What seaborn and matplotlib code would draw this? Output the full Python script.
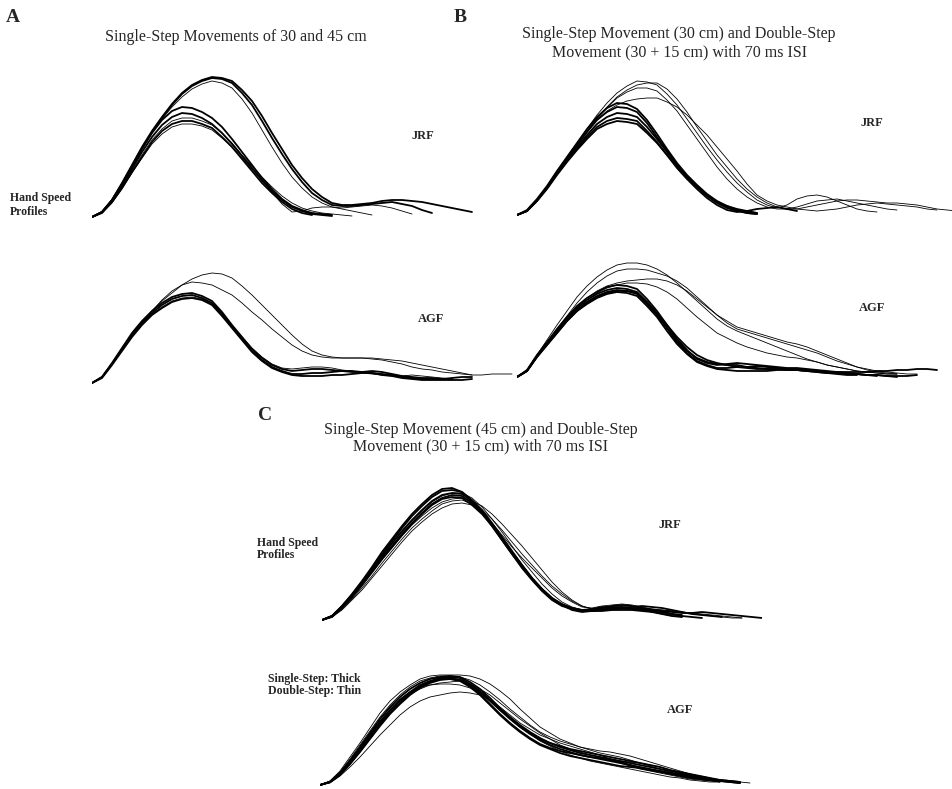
import numpy as np
import pandas as pd
import matplotlib
matplotlib.use("Agg")
import matplotlib.pyplot as plt
import seaborn as sns

sns.set_style('white')
plt.rcParams['font.family'] = ['Liberation Serif', 'DejaVu Serif']

# sample times (ms) shared by every trace, one value every 20 ms
T = [0, 20, 40, 60, 80, 100, 120, 140, 160, 180, 200, 220, 240, 260, 280,
     300, 320, 340, 360, 380, 400, 420, 440, 460, 480, 500, 520, 540, 560,
     580, 600, 620, 640, 660, 680, 700, 720, 740, 760, 780, 800, 820, 840,
     860, 880]

# hand speed (cm/s)
# --- A, JRF: 30 cm (short) and 45 cm (tall)
a_jrf_30_1 = [0, 5, 17, 33, 50, 68, 84, 97, 106, 110, 109, 105, 99, 90, 78, 65, 52, 39, 28, 18, 11, 7, 4, 3, 2]
a_jrf_30_2 = [0, 5, 16, 31, 48, 65, 80, 92, 100, 104, 103, 99, 93, 84, 73, 61, 49, 37, 26, 17, 10, 6, 3, 2, 1]
a_jrf_30_3 = [0, 4, 15, 30, 46, 62, 77, 88, 96, 99, 99, 96, 92, 84, 74, 62, 51, 40, 30, 21, 14, 9, 6, 4, 3, 2, 1]
a_jrf_30_4 = [0, 4, 15, 29, 45, 60, 75, 86, 93, 96, 96, 93, 89, 80, 70, 58, 46, 34, 24, 15, 8, 4, 2]
a_jrf_30_5 = [0, 4, 14, 28, 44, 59, 73, 83, 90, 93, 93, 91, 87, 79, 70, 59, 48, 36, 25, 13, 5, 6, 9, 10, 10, 8, 6, 4, 2]
a_jrf_45_1 = [0, 5, 17, 34, 52, 70, 86, 100, 113, 124, 132, 137, 140, 139, 136, 127, 116, 101, 84, 68,
              52, 39, 28, 20, 14, 12, 12, 13, 14, 16, 17, 17, 16, 15, 13, 11, 9, 7, 5]
a_jrf_45_2 = [0, 5, 17, 33, 51, 69, 85, 99, 112, 123, 131, 136, 139, 138, 134, 124, 112, 96, 79, 63,
              48, 35, 24, 17, 12, 11, 11, 12, 13, 14, 15, 13, 11, 7, 4]
a_jrf_45_3 = [0, 5, 16, 32, 50, 68, 84, 98, 110, 120, 128, 133, 136, 134, 129, 118, 104, 87, 70, 54,
              40, 29, 20, 14, 10, 9, 10, 11, 12, 11, 9, 6, 3]

# --- A, AGF
a_agf_30_1 = [0, 6, 20, 35, 50, 62, 72, 80, 86, 89, 90, 87, 82, 71, 58, 46, 34, 25, 18, 14,
              12, 13, 14, 14, 13, 12, 11, 11, 12, 11, 9, 7, 6, 5, 5, 4, 4]
a_agf_30_2 = [0, 6, 19, 34, 48, 60, 70, 78, 84, 87, 88, 85, 80, 69, 56, 44, 32, 23, 16, 12,
              9, 9, 10, 10, 11, 12, 12, 11, 10, 8, 7, 5, 4, 3, 3, 3, 3, 3, 4]
a_agf_30_3 = [0, 6, 19, 33, 47, 59, 69, 76, 82, 85, 86, 84, 79, 69, 57, 46, 35, 26, 19, 15,
              14, 15, 16, 16, 15, 13, 12, 10, 9, 8, 7, 7, 8, 7, 6, 5, 4]
a_agf_30_4 = [0, 5, 18, 32, 46, 58, 68, 75, 81, 84, 85, 83, 78, 67, 55, 43, 31, 22, 15, 11,
              8, 7, 7, 7, 8, 8, 9, 10, 10, 9, 8, 6, 5, 4, 4, 4, 5, 6, 6]
a_agf_45_1 = [0, 6, 19, 34, 48, 61, 72, 82, 90, 98, 104, 108, 110, 109, 105, 97, 88, 78, 68, 58,
              48, 39, 32, 28, 26, 25, 25, 25, 25, 24, 23, 22, 20, 18, 16, 14, 12, 10, 8]
a_agf_45_2 = [0, 6, 19, 34, 48, 61, 72, 83, 92, 98, 101, 100, 98, 93, 88, 80, 71, 63, 54, 46,
              38, 32, 28, 26, 25, 25, 25, 25, 24, 23, 21, 19, 16, 14, 13, 11, 10, 9, 8, 8, 9, 9, 9]

# --- B, JRF: single 30 cm (thick) and double 30 + 15 cm (thin)
b_jrf_s1 = [0, 5, 16, 29, 44, 58, 72, 86, 98, 107, 112, 111, 106, 95, 81, 66, 52, 40, 30, 21, 14, 9, 5, 2, 1]
b_jrf_s2 = [0, 4, 15, 28, 43, 57, 70, 83, 95, 103, 108, 107, 103, 92, 78, 64, 50, 38, 28, 19, 12, 7, 4, 2, 1]
b_jrf_s3 = [0, 4, 15, 28, 42, 55, 68, 80, 91, 98, 102, 101, 98, 88, 76, 63, 50, 39, 29, 20, 13, 8, 5, 3, 2]
b_jrf_s4 = [0, 4, 14, 27, 41, 54, 66, 78, 88, 94, 97, 96, 94, 84, 73, 60, 47, 36, 26, 17, 10, 5, 3, 4, 6, 7, 8, 6, 4]
b_jrf_s5 = [0, 4, 14, 26, 40, 53, 65, 76, 86, 91, 94, 93, 91, 82, 72, 60, 48, 37, 28, 20, 13, 9, 6, 4, 2]
b_jrf_d1 = [0, 4, 15, 28, 43, 58, 72, 86, 100, 112, 122, 129, 134, 133, 130, 121, 110, 96, 82, 68,
            55, 43, 32, 23, 15, 10, 7, 10, 16, 19, 20, 18, 14, 10, 6, 4, 3]
b_jrf_d2 = [0, 4, 15, 28, 42, 56, 70, 84, 97, 108, 118, 125, 130, 132, 132, 126, 116, 103, 88, 74,
            60, 48, 36, 26, 18, 12, 8, 6, 6, 8, 10, 12, 14, 15, 15, 14, 13, 12, 12, 11, 10, 8, 6, 5, 4]
b_jrf_d3 = [0, 4, 15, 28, 42, 56, 70, 83, 96, 107, 117, 123, 127, 127, 124, 115, 104, 90, 76, 62,
            48, 36, 26, 18, 12, 8, 6, 6, 8, 11, 14, 15, 16, 14, 12, 10, 8, 6, 5]
b_jrf_d4 = [0, 4, 15, 28, 42, 56, 70, 83, 95, 104, 110, 114, 116, 117, 117, 113, 108, 100, 90, 80,
            68, 56, 44, 31, 20, 14, 10, 8, 6, 5, 4, 5, 6, 8, 10, 11, 12, 11, 10, 9, 8, 6, 5]

# --- B, AGF
b_agf_s1 = [0, 7, 22, 35, 48, 60, 71, 79, 85, 90, 92, 91, 88, 78, 66, 52, 38, 27, 18, 14,
            12, 13, 14, 13, 12, 11, 10, 9, 9, 8, 7, 6, 5, 4, 3, 2, 2, 1, 0]
b_agf_s2 = [0, 6, 21, 34, 46, 58, 69, 77, 83, 87, 89, 88, 85, 75, 63, 49, 35, 24, 16, 12,
            9, 9, 10, 10, 11, 10, 9, 8, 7, 6, 5, 4, 4, 3, 3, 2, 1]
b_agf_s3 = [0, 6, 21, 33, 45, 57, 67, 75, 81, 85, 87, 86, 83, 73, 62, 49, 36, 26, 19, 15,
            13, 12, 12, 10, 9, 8, 8, 8, 8, 7, 6, 5, 4, 3, 3, 2, 2, 1, 1, 1, 2]
b_agf_s4 = [0, 6, 20, 32, 44, 56, 66, 73, 79, 83, 85, 84, 81, 71, 60, 46, 33, 23, 15, 11,
            8, 7, 6, 6, 6, 6, 7, 7, 7, 6, 5, 4, 3, 2, 2]
b_agf_s5 = [0, 6, 20, 32, 44, 56, 66, 74, 80, 84, 86, 86, 84, 75, 64, 52, 40, 30, 22, 17,
            14, 12, 10, 9, 8, 8, 8, 7, 7, 6, 6, 5, 5, 5, 5, 5, 6, 6, 7, 7, 8, 8, 7]
b_agf_d1 = [0, 7, 22, 37, 52, 66, 80, 91, 100, 107, 112, 114, 114, 112, 108, 102, 94, 85, 76, 67,
            58, 51, 46, 42, 38, 34, 30, 26, 22, 18, 15, 12, 10, 8, 6, 5, 4, 3, 3]
b_agf_d2 = [0, 6, 21, 34, 48, 61, 74, 85, 94, 101, 106, 108, 108, 107, 104, 101, 96, 89, 80, 71,
            62, 54, 48, 45, 42, 39, 36, 33, 30, 27, 24, 20, 16, 13, 10, 8, 6, 5, 4, 3, 3]
b_agf_d3 = [0, 6, 20, 33, 46, 58, 70, 79, 86, 91, 94, 96, 97, 98, 98, 96, 92, 86, 78, 70,
            62, 56, 50, 47, 44, 41, 38, 35, 33, 30, 26, 22, 18, 14, 10, 7, 5, 4, 3]
b_agf_d4 = [0, 6, 20, 33, 46, 58, 68, 77, 84, 89, 92, 94, 94, 93, 90, 85, 78, 69, 60, 52,
            44, 39, 34, 30, 27, 24, 22, 20, 19, 17, 15, 12, 10, 8, 6, 5, 4, 3, 3]

# --- C, JRF: single 45 cm (thick) and double 30 + 15 cm (thin)
c_jrf_s1 = [0, 4, 14, 26, 39, 53, 68, 81, 94, 106, 116, 125, 131, 132, 128, 119, 108, 94, 80, 66,
            52, 40, 29, 20, 14, 11, 9, 10, 12, 12, 12, 11, 10, 9, 8, 6, 5]
c_jrf_s2 = [0, 4, 14, 25, 38, 52, 66, 79, 92, 104, 114, 123, 129, 130, 128, 120, 110, 97, 83, 69,
            55, 42, 31, 22, 15, 12, 10, 11, 13, 13, 13, 12, 11, 10, 8, 6, 4, 3, 2]
c_jrf_s3 = [0, 4, 13, 24, 37, 50, 64, 77, 89, 100, 110, 119, 125, 127, 126, 119, 109, 96, 82, 68,
            54, 41, 30, 21, 15, 11, 9, 9, 10, 11, 12, 13, 14, 13, 12, 10, 8, 6, 5, 4, 3]
c_jrf_s4 = [0, 4, 13, 24, 36, 49, 62, 74, 86, 97, 107, 116, 122, 125, 124, 117, 108, 96, 82, 68,
            55, 42, 31, 22, 16, 12, 10, 9, 9, 10, 10, 10, 9, 8, 6, 4, 3]
c_jrf_s5 = [0, 3, 12, 23, 35, 48, 61, 73, 85, 96, 106, 115, 121, 123, 122, 115, 106, 94, 80, 66,
            53, 41, 30, 21, 15, 10, 8, 9, 12, 14, 15, 14, 12, 10, 9, 8, 7, 7, 8, 7, 6, 5, 4, 3, 2]
c_jrf_d1 = [0, 3, 10, 20, 30, 42, 54, 66, 78, 89, 98, 106, 112, 116, 117, 115, 110, 101, 90, 78,
            66, 55, 44, 34, 26, 19, 14, 11, 10, 11, 12, 11, 10, 8, 7, 5, 4]
c_jrf_d2 = [0, 3, 11, 21, 32, 44, 57, 69, 81, 92, 101, 109, 116, 119, 120, 116, 108, 97, 85, 73,
            62, 52, 42, 32, 24, 18, 13, 12, 14, 15, 16, 15, 13, 11, 10, 9, 8, 7, 6, 5, 4, 3, 2]
c_jrf_d3 = [0, 3, 12, 22, 34, 47, 60, 72, 84, 95, 104, 112, 118, 121, 122, 119, 114, 106, 96, 85,
            74, 62, 50, 38, 28, 20, 14, 11, 10, 10, 11, 11, 10, 8, 6, 4, 3]
c_jrf_d4 = [0, 4, 13, 24, 36, 49, 63, 76, 88, 99, 109, 118, 124, 127, 127, 122, 113, 101, 88, 74,
            60, 48, 36, 26, 18, 13, 10, 10, 11, 12, 13, 13, 12, 11, 10, 9, 8, 6, 5, 4, 3, 2, 2]

# --- C, AGF
c_agf_s1 = [0, 3, 12, 24, 38, 52, 66, 78, 88, 96, 102, 106, 108, 109, 108, 103, 96, 87, 77, 68,
            60, 53, 47, 42, 38, 35, 32, 30, 28, 26, 24, 22, 20, 18, 16, 14, 12, 10, 8, 6, 5, 4, 3]
c_agf_s2 = [0, 3, 11, 23, 36, 50, 63, 75, 85, 93, 100, 104, 107, 108, 107, 101, 94, 85, 75, 66,
            58, 51, 45, 40, 36, 33, 30, 28, 26, 24, 22, 20, 18, 16, 14, 12, 11, 9, 7, 5, 4, 3, 2]
c_agf_s3 = [0, 3, 11, 22, 35, 49, 62, 74, 84, 92, 99, 103, 106, 107, 105, 99, 91, 81, 71, 62,
            54, 47, 41, 37, 34, 32, 30, 28, 27, 25, 23, 20, 17, 15, 13, 11, 9, 7, 6, 5, 4, 3, 2]
c_agf_s4 = [0, 3, 10, 21, 34, 47, 60, 72, 82, 91, 98, 103, 106, 106, 104, 98, 90, 80, 70, 61,
            53, 46, 40, 36, 32, 29, 27, 25, 23, 21, 19, 18, 17, 15, 14, 12, 10, 8, 6, 5, 4]
c_agf_s5 = [0, 3, 10, 21, 33, 46, 59, 71, 81, 90, 97, 102, 105, 106, 105, 100, 93, 84, 75, 67,
            59, 52, 46, 42, 39, 36, 34, 32, 30, 28, 26, 24, 22, 20, 18, 15, 13, 11, 9, 7, 5, 4, 3]
c_agf_d1 = [0, 4, 14, 28, 42, 57, 72, 84, 93, 100, 106, 109, 110, 110, 110, 109, 106, 101, 94, 86,
            76, 67, 58, 52, 46, 42, 38, 35, 32, 30, 28, 25, 22, 19, 16, 13, 10, 8, 6, 5, 4, 3, 2]
c_agf_d2 = [0, 3, 12, 25, 38, 52, 66, 77, 86, 93, 98, 100, 101, 101, 100, 97, 92, 85, 76, 67,
            58, 51, 44, 39, 34, 30, 27, 24, 22, 20, 18, 16, 14, 12, 10, 8, 7, 5, 4, 3, 3]
c_agf_d3 = [0, 2, 9, 18, 28, 39, 50, 60, 70, 78, 84, 88, 90, 92, 93, 92, 90, 85, 78, 70,
            62, 56, 50, 46, 42, 39, 36, 33, 30, 26, 22, 19, 16, 14, 12, 10, 8, 6, 5, 4, 3]
c_agf_d4 = [0, 4, 13, 26, 40, 54, 68, 80, 90, 98, 104, 107, 109, 109, 108, 105, 100, 93, 85, 76,
            68, 60, 53, 48, 44, 41, 38, 36, 34, 33, 31, 29, 26, 23, 20, 17, 14, 11, 9, 7, 5, 4, 3, 2]
c_agf_d5 = [0, 3, 11, 24, 37, 51, 64, 75, 84, 91, 96, 100, 102, 103, 104, 101, 96, 90, 82, 74,
            66, 59, 52, 46, 40, 36, 33, 30, 28, 26, 24, 23, 22, 20, 18, 15, 12, 9, 7, 5, 3]

# (panel, trace, thick/thin)
traces = [
    ('A_JRF', a_jrf_30_1, 'thick'), ('A_JRF', a_jrf_30_2, 'thick'),
    ('A_JRF', a_jrf_30_3, 'thin'), ('A_JRF', a_jrf_30_4, 'thick'),
    ('A_JRF', a_jrf_30_5, 'thin'), ('A_JRF', a_jrf_45_1, 'thick'),
    ('A_JRF', a_jrf_45_2, 'thick'), ('A_JRF', a_jrf_45_3, 'thin'),
    ('A_AGF', a_agf_30_1, 'thick'), ('A_AGF', a_agf_30_2, 'thick'),
    ('A_AGF', a_agf_30_3, 'thin'), ('A_AGF', a_agf_30_4, 'thick'),
    ('A_AGF', a_agf_45_1, 'thin'), ('A_AGF', a_agf_45_2, 'thin'),
    ('B_JRF', b_jrf_s1, 'thick'), ('B_JRF', b_jrf_s2, 'thick'),
    ('B_JRF', b_jrf_s3, 'thick'), ('B_JRF', b_jrf_s4, 'thick'),
    ('B_JRF', b_jrf_s5, 'thick'), ('B_JRF', b_jrf_d1, 'thin'),
    ('B_JRF', b_jrf_d2, 'thin'), ('B_JRF', b_jrf_d3, 'thin'),
    ('B_JRF', b_jrf_d4, 'thin'),
    ('B_AGF', b_agf_s1, 'thick'), ('B_AGF', b_agf_s2, 'thick'),
    ('B_AGF', b_agf_s3, 'thick'), ('B_AGF', b_agf_s4, 'thick'),
    ('B_AGF', b_agf_s5, 'thick'), ('B_AGF', b_agf_d1, 'thin'),
    ('B_AGF', b_agf_d2, 'thin'), ('B_AGF', b_agf_d3, 'thin'),
    ('B_AGF', b_agf_d4, 'thin'),
    ('C_JRF', c_jrf_s1, 'thick'), ('C_JRF', c_jrf_s2, 'thick'),
    ('C_JRF', c_jrf_s3, 'thick'), ('C_JRF', c_jrf_s4, 'thick'),
    ('C_JRF', c_jrf_s5, 'thick'), ('C_JRF', c_jrf_d1, 'thin'),
    ('C_JRF', c_jrf_d2, 'thin'), ('C_JRF', c_jrf_d3, 'thin'),
    ('C_JRF', c_jrf_d4, 'thin'),
    ('C_AGF', c_agf_s1, 'thick'), ('C_AGF', c_agf_s2, 'thick'),
    ('C_AGF', c_agf_s3, 'thick'), ('C_AGF', c_agf_s4, 'thick'),
    ('C_AGF', c_agf_s5, 'thick'), ('C_AGF', c_agf_d1, 'thin'),
    ('C_AGF', c_agf_d2, 'thin'), ('C_AGF', c_agf_d3, 'thin'),
    ('C_AGF', c_agf_d4, 'thin'), ('C_AGF', c_agf_d5, 'thin'),
]

rows = []
for i, (panel, speed, kind) in enumerate(traces):
    for t, v in zip(T, speed):
        rows.append({'panel': panel, 'trial': i, 'kind': kind, 'time': t, 'speed': v})
df = pd.DataFrame(rows)

W, H = 953, 789
fig = plt.figure(figsize=(W / 100, H / 100), dpi=100)

# start of movement (pixel) for each panel
origins = {'A_JRF': (92, 217), 'A_AGF': (92, 383),
           'B_JRF': (517, 215), 'B_AGF': (517, 377),
           'C_JRF': (322, 620), 'C_AGF': (320, 785)}

for panel, (x0, y0) in origins.items():
    ax = fig.add_axes([x0 / W, (H - y0 - 3) / H, 440 / W, 150 / H])
    sns.lineplot(data=df[df['panel'] == panel], x='time', y='speed',
                 units='trial', estimator=None, sort=False,
                 size='kind', sizes={'thick': 1.3, 'thin': 0.6},
                 color='black', legend=False, ax=ax)
    ax.set_xlim(0, 880)
    ax.set_ylim(-3, 147)
    ax.axis('off')


def label(x, y, s, **kw):
    fig.text(x / W, 1 - y / H, s, va='center', **kw)


label(13, 17, 'A', ha='center', fontsize=14, fontweight='bold')
label(460, 17, 'B', ha='center', fontsize=14, fontweight='bold')
label(265, 416, 'C', ha='center', fontsize=14, fontweight='bold')

label(236, 37, 'Single-Step Movements of 30 and 45 cm', ha='center', fontsize=11.5)
label(679, 43, 'Single-Step Movement (30 cm) and Double-Step\nMovement (30 + 15 cm) with 70 ms ISI',
      ha='center', fontsize=11.5, linespacing=1.2)
label(481, 438, 'Single-Step Movement (45 cm) and Double-Step\nMovement (30 + 15 cm) with 70 ms ISI',
      ha='center', fontsize=11.5, linespacing=1.05)

label(10, 205, 'Hand Speed\nProfiles', ha='left', fontsize=8.5, fontweight='bold', linespacing=1.25)
label(257, 549, 'Hand Speed\nProfiles', ha='left', fontsize=8.5, fontweight='bold', linespacing=1.1)
label(268, 685, 'Single-Step: Thick\nDouble-Step: Thin', ha='left', fontsize=8.5,
      fontweight='bold', linespacing=1.0)

label(423, 136, 'JRF', ha='center', fontsize=9, fontweight='bold')
label(431, 319, 'AGF', ha='center', fontsize=9, fontweight='bold')
label(872, 123, 'JRF', ha='center', fontsize=9, fontweight='bold')
label(872, 308, 'AGF', ha='center', fontsize=9, fontweight='bold')
label(670, 525, 'JRF', ha='center', fontsize=9, fontweight='bold')
label(680, 710, 'AGF', ha='center', fontsize=9, fontweight='bold')

fig.savefig('out.png', dpi=100)
